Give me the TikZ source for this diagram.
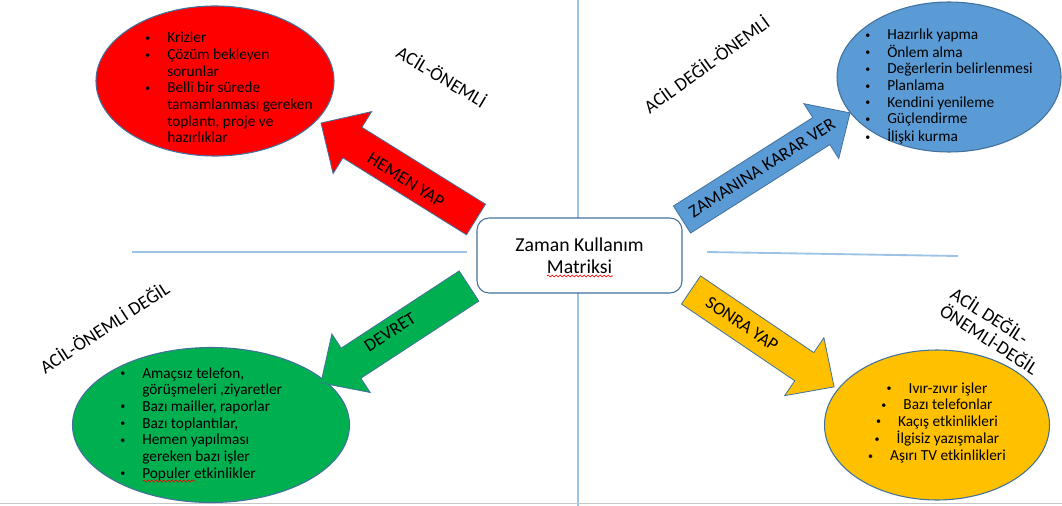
\documentclass[tikz,border=0pt]{standalone}
\usepackage{fontspec}
\setmainfont{Carlito}
\usetikzlibrary{shapes.geometric, decorations.pathmorphing}

\definecolor{kirmizi}{HTML}{FF0000}
\definecolor{mavi}{HTML}{5B9BD5}
\definecolor{yesil}{HTML}{00B050}
\definecolor{sari}{HTML}{FFC000}
\definecolor{kenar}{HTML}{41719C}
\definecolor{eksen}{HTML}{9DC3E6}

\newdimen\pxu \pxu=0.75pt
\newcommand{\bul}{\makebox[16.5pt][l]{\raisebox{1.1pt}{\fontsize{7.5}{7.5}\selectfont•}}}
\newcommand{\ind}{\hspace*{16.5pt}}
% tail, angle, length, half shaft, half head, head length, colour
\newcommand{\blockarrow}[7]{%
  \begin{scope}[shift={#1}, rotate=#2]
    \draw[draw=kenar, line width=0.6pt, fill=#7]
      (0,-#4) -- ({#3-#6},-#4) -- ({#3-#6},-#5) -- (#3,0)
      -- ({#3-#6},#5) -- ({#3-#6},#4) -- (0,#4) -- cycle;
  \end{scope}}

\begin{document}
\begin{tikzpicture}[x=0.75pt, y=-0.75pt,
    axisline/.style={draw=eksen, line width=1.4pt},
    bubble/.style={ellipse, draw=kenar, line width=0.8pt, inner sep=0pt},
    itemlist/.style={anchor=base west, inner sep=0pt, font=\fontsize{11.5}{12.5}\selectfont},
    quadlabel/.style={font=\fontsize{14}{15}\selectfont, inner sep=0pt},
    arrowtext/.style={font=\fontsize{13.5}{15}\selectfont, inner sep=0pt},
    centerbox/.style={draw=kenar, line width=0.8pt, fill=white, rounded corners=9pt,
      minimum width=205\pxu, minimum height=75\pxu, align=center,
      font=\fontsize{14.8}{16.5}\selectfont},
    spell/.style={draw=red, line width=0.5pt, decorate,
      decoration={snake, amplitude=0.7pt, segment length=3pt}}]
\useasboundingbox (0,0) rectangle (1062,506);

% quadrant lines
\draw[axisline] (578,0) -- (578,506);
\draw[axisline] (132,252) -- (467,252);
\draw[axisline] (707,252) -- (958,256);
\draw[black!22, line width=1pt] (0,503.5) -- (1062,503.5);

% ellipses
\node[bubble, fill=kirmizi, minimum width=238\pxu, minimum height=150\pxu] (krizler) at (215,81) {};
\node[bubble, fill=mavi, minimum width=224\pxu, minimum height=150\pxu] (hazirlik) at (949,77) {};
\node[bubble, fill=yesil, minimum width=277\pxu, minimum height=155\pxu] (amacsiz) at (211,425) {};
\node[bubble, fill=sari, minimum width=225\pxu, minimum height=150\pxu] (ivir) at (937,425) {};

% block arrows
\blockarrow{(476,219.5)}{148.1}{182.6}{18}{36.5}{37}{kirmizi}
\blockarrow{(682,219.5)}{32.4}{199}{16}{32.5}{34}{mavi}
\blockarrow{(691,290)}{-34.1}{172.8}{17}{35}{36}{sari}
\blockarrow{(469,286)}{213.2}{177}{18}{35}{36}{yesil}

\node[centerbox] (matris) at (579.5,255.5) {Zaman Kullanım\\Matriksi};

% arrow texts
\node[arrowtext, rotate=-32] (hemen) at (406,180) {HEMEN YAP};
\node[arrowtext, rotate=32.4] (zamanina) at (762,168) {ZAMANINA KARAR VER};
\node[arrowtext, rotate=-34] (sonra) at (742,324) {SONRA YAP};
\node[arrowtext, rotate=33] (devret) at (390,332) {DEVRET};

% quadrant titles
\node[quadlabel, rotate=-31] (q1) at (442,76) {ACİL-ÖNEMLİ};
\node[quadlabel, rotate=36] (q2) at (706,64) {ACİL DEĞİL-ÖNEMLİ};
\node[quadlabel, rotate=33] (q3) at (104,327) {ACİL-ÖNEMLİ DEĞİL};
\node[quadlabel, rotate=-33, align=left] (q4) at (995,330) {ACİL DEĞİL-\\ÖNEMLİ-DEĞİL};

% lists
\node[itemlist] (l1) at (145,43) {\begin{tabular}[t]{@{}l@{}}
\bul Krizler\\
\bul Çözüm bekleyen\\
\ind sorunlar\\
\bul Belli bir sürede\\
\ind tamamlanması gereken\\
\ind toplantı, proje ve\\
\ind hazırlıklar
\end{tabular}};
\node[itemlist] (l2) at (865,40) {\begin{tabular}[t]{@{}l@{}}
\bul Hazırlık yapma\\
\bul Önlem alma\\
\bul Değerlerin belirlenmesi\\
\bul Planlama\\
\bul Kendini yenileme\\
\bul Güçlendirme\\
\bul İlişki kurma
\end{tabular}};
\node[itemlist] (l3) at (120,378) {\begin{tabular}[t]{@{}l@{}}
\bul Amaçsız telefon,\\
\ind görüşmeleri ,ziyaretler\\
\bul Bazı mailler, raporlar\\
\bul Bazı toplantılar,\\
\bul Hemen yapılması\\
\ind gereken bazı işler\\
\bul Populer etkinlikler
\end{tabular}};
\node[itemlist, anchor=base] (l4) at (937,393) {\begin{tabular}[t]{@{}c@{}}
\bul Ivır-zıvır işler\\
\bul Bazı telefonlar\\
\bul Kaçış etkinlikleri\\
\bul İlgisiz yazışmalar\\
\bul Aşırı TV etkinlikleri
\end{tabular}};

% spell-check marks
\draw[spell] (143,481) -- (195,481);
\draw[spell] (547,276) -- (613,276);
\end{tikzpicture}
\end{document}
